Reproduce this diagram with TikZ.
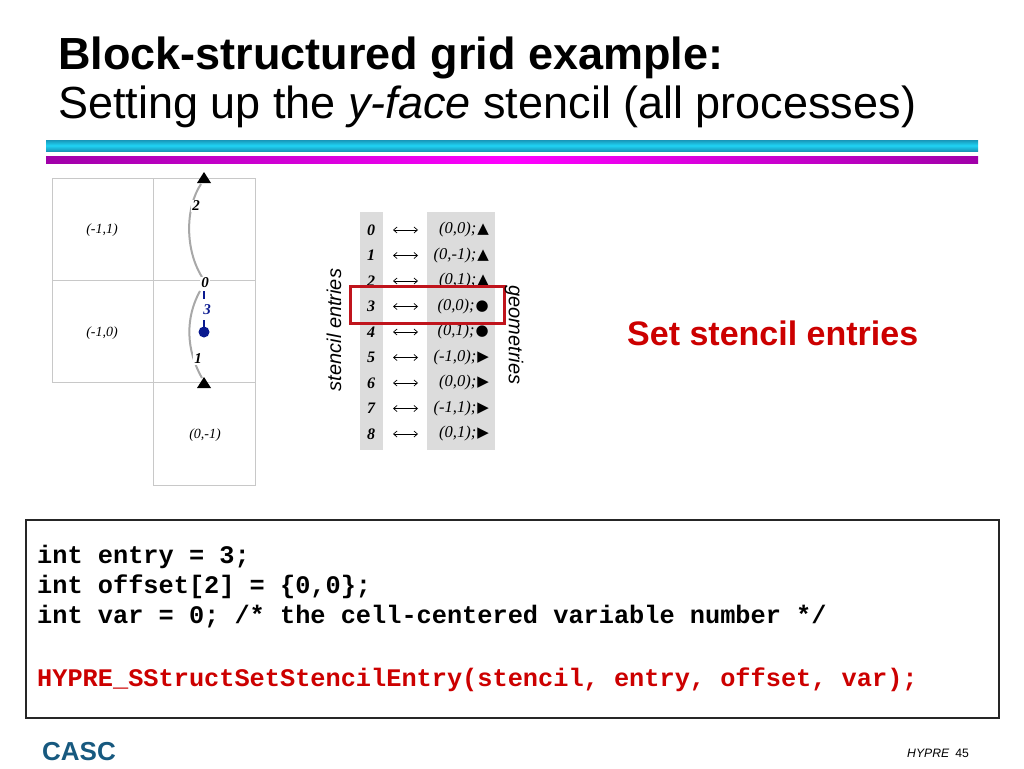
\documentclass[tikz,border=0pt]{standalone}
\usepackage{fontspec}
\setmainfont{Liberation Serif}
\setsansfont{Liberation Sans}
\setmonofont{Liberation Mono}
\newfontfamily\symfont{DejaVu Sans}
\usetikzlibrary{arrows.meta}
\definecolor{gridgrey}{HTML}{C8C8C8}
\definecolor{curvegrey}{HTML}{A8A8A8}
\definecolor{colgrey}{HTML}{DCDCDC}
\definecolor{dotblue}{HTML}{0A1A90}
\definecolor{boxred}{HTML}{C0141C}
\definecolor{txtred}{HTML}{CC0000}
\definecolor{cyanD}{HTML}{1896B8}
\definecolor{cyanL}{HTML}{20D4F4}
\definecolor{magD}{HTML}{A000A8}
\definecolor{magL}{HTML}{FF00FF}
\definecolor{cascblue}{HTML}{17597F}
\tikzset{
  cellline/.style={draw=gridgrey, line width=1pt},
  celllabel/.style={font=\fontsize{14}{16}\selectfont\itshape, inner sep=0pt},
  stlabel/.style={font=\fontsize{15}{17}\selectfont\bfseries\itshape, fill=white, inner sep=1pt},
  stcurve/.style={draw=curvegrey, line width=2pt},
  tri/.style={fill=black, draw=none},
  entrynum/.style={font=\fontsize{16}{18}\selectfont\bfseries\itshape, inner sep=0pt},
  geomtext/.style={font=\fontsize{16.5}{18}\selectfont\itshape, anchor=east, inner sep=0pt},
  dblarrow/.style={{Straight Barb[length=3.5pt,width=6pt]}-{Straight Barb[length=3.5pt,width=6pt]}, line width=0.7pt},
  sidelabel/.style={font=\fontsize{20}{22}\selectfont\sffamily\itshape, inner sep=0pt},
  codeline/.style={font=\fontsize{25.3}{30}\selectfont\ttfamily\bfseries, anchor=base west, inner sep=0pt},
}
\begin{document}
\begin{tikzpicture}[x=1pt,y=-1pt]
\useasboundingbox (0,0) rectangle (1024,768);
% title
\node[anchor=base west, inner sep=0pt, font=\fontsize{45}{50}\selectfont\sffamily\bfseries] (t1) at (58,70) {Block-structured grid example:};
\node[anchor=base west, inner sep=0pt, font=\fontsize{45}{50}\selectfont\sffamily] (t2) at (58,118) {Setting up the \textit{y-face} stencil (all processes)};
% bars
\shade[top color=cyanD, bottom color=cyanD, middle color=cyanL] (46,140) rectangle (978,151);
\shade[left color=magD, right color=magD, middle color=magL] (46,156) rectangle (978,163);
% grid
\draw[cellline] (52,178) rectangle (153,280);
\draw[cellline] (52,280) rectangle (153,382);
\draw[cellline] (153,178) rectangle (255,280);
\draw[cellline] (153,280) rectangle (255,382);
\draw[cellline] (153,382) rectangle (255,485);
\node[celllabel] (c11) at (102,230) {(-1,1)};
\node[celllabel] (c10) at (102,333) {(-1,0)};
\node[celllabel] (c01) at (205,435) {(0,-1)};
% stencil curves
\coordinate (up0) at (202,277);
\coordinate (uptop) at (201,184);
\coordinate (lo0) at (200,291);
\coordinate (lobot) at (202,378);
\draw[stcurve] (up0) .. controls (185,250) and (185,208) .. (uptop);
\draw[stcurve] (lo0) .. controls (185,318) and (186,350) .. (lobot);
\fill[tri] (197,183) -- (211,183) -- (204,172) -- cycle;
\fill[tri] (197,388) -- (211,388) -- (204,377) -- cycle;
\node[stlabel] (l2) at (196,206) {2};
\node[stlabel] (l0) at (205,283) {0};
\node[stlabel] (l1) at (198,359) {1};
\node[stlabel, text=dotblue, fill=none] (l3) at (207,310) {3};
\fill[dotblue] (204,332) circle (5.5);
\coordinate (dot) at (204,332);
\coordinate (tk1) at (204,291);
\coordinate (tk2) at (204,299);
\coordinate (tk3) at (204,320);
\draw[dotblue, line width=1.6pt] (tk1) -- (tk2);
\draw[dotblue, line width=1.6pt] (tk3) -- (dot);
% table
\fill[colgrey] (360,212) rectangle (383,450);
\fill[colgrey] (427,212) rectangle (495,450);
\foreach \i/\g/\s in
  {0/{(0,0);}/▲, 1/{(0,-1);}/▲, 2/{(0,1);}/▲, 3/{(0,0);}/●, 4/{(0,1);}/●,
   5/{(-1,0);}/▶, 6/{(0,0);}/▶, 7/{(-1,1);}/▶, 8/{(0,1);}/▶}{
  \pgfmathsetmacro{\yy}{230+25.5*\i}
  \node[entrynum] (e\i) at (371,\yy) {\i};
  \coordinate (al\i) at (393,\yy);
  \coordinate (ar\i) at (418,\yy);
  \draw[dblarrow] (al\i) -- (ar\i);
  \node[geomtext] (g\i) at (489,\yy) {\g\hspace{1pt}{\symfont\fontsize{15}{17}\selectfont\s}};
}
\draw[boxred, line width=3pt] (350,286) rectangle (504,323);
\node[sidelabel, rotate=90] (se) at (334,330) {stencil entries};
\node[sidelabel, rotate=-90] (ge) at (514,335) {geometries};
% red heading
\node[anchor=base west, inner sep=0pt, text=txtred, font=\fontsize{34}{38}\selectfont\sffamily\bfseries] (sse) at (627,345) {Set stencil entries};
% code box
\draw[line width=1.3pt, draw=black!85] (26,520) rectangle (999,718);
\node[codeline] (cl1) at (37,563) {int entry = 3;};
\node[codeline] (cl2) at (37,593) {int offset[2] = \{0,0\};};
\node[codeline] (cl3) at (37,623) {int var = 0; /* the cell-centered variable number */};
\node[codeline, text=txtred] (cl4) at (37,686) {HYPRE\_SStructSetStencilEntry(stencil, entry, offset, var);};
% footer
\node[anchor=base west, inner sep=0pt, text=cascblue, font=\fontsize{26}{30}\selectfont\sffamily\bfseries] (casc) at (42,760) {CASC};
\node[anchor=base west, inner sep=0pt, font=\fontsize{12.2}{14}\selectfont\sffamily] (hyp) at (907,757) {\textit{HYPRE}\hspace{6pt}45};
\end{tikzpicture}
\end{document}
